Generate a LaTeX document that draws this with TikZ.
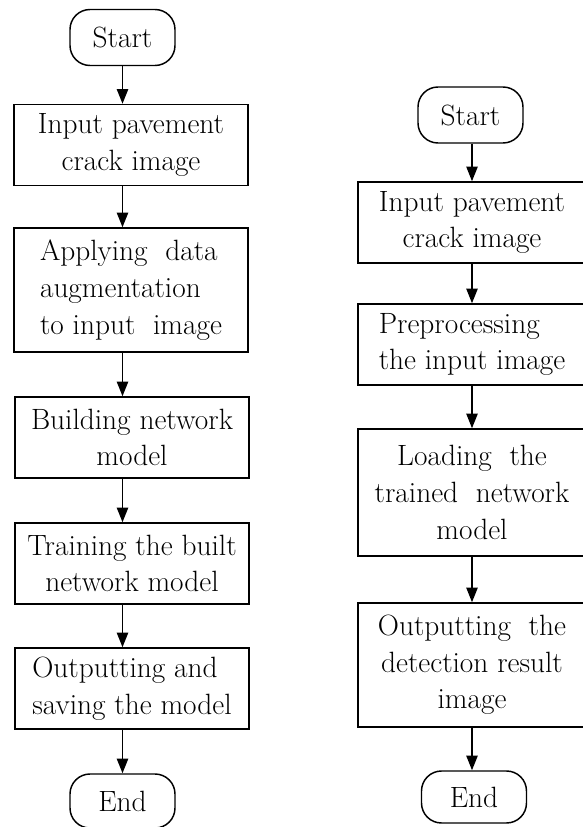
\documentclass[tikz,border=0pt]{standalone}
\usetikzlibrary{arrows.meta}

\tikzset{every picture/.style={line width=1.1pt}}
\tikzset{
  terminal/.style={draw, rounded corners=15pt, minimum width=78.75pt, minimum height=42pt, font=\fontsize{22}{27.5}\selectfont},
  procbox/.style={draw, align=center, minimum width=175.5pt, minimum height=60.75pt, inner sep=1pt, font=\fontsize{22}{27.5}\selectfont},
  flowarrow/.style={-{Triangle[length=11pt,width=8.5pt]}}
}

\begin{document}
\begin{tikzpicture}[x=0.75pt,y=0.75pt,yscale=-1,xscale=1]
\useasboundingbox (0,0) rectangle (582,827);

%Training flow (left)
\node [terminal] (start1) at (122.5,37.5) {Start};
\node [procbox] (in1) at (131,145) {Input pavement\\crack image};
\node [procbox, minimum height=93pt, align=left] (aug1) at (131,290) {Applying\ \ data\\augmentation\\to input\ \ image};
\node [procbox] (build1) at (132,437.5) {Building network\\model};
\node [procbox] (train1) at (132,563.5) {Training the built\\network model};
\node [procbox, align=left] (save1) at (132,688.5) {Outputting and\\saving the model};
\node [terminal, minimum height=40.5pt] (end1) at (122.5,801) {End};

%Straight Lines
\draw [flowarrow] (start1.south) -- (start1.south |- in1.north);
\draw [flowarrow] (in1.south -| start1) -- (aug1.north -| start1);
\draw [flowarrow] (aug1.south -| start1) -- (build1.north -| start1);
\draw [flowarrow] (build1.south -| start1) -- (train1.north -| start1);
\draw [flowarrow] (train1.south -| start1) -- (save1.north -| start1);
\draw [flowarrow] (save1.south -| start1) -- (end1.north);

%Detection flow (right)
\node [terminal] (start2) at (470.5,115) {Start};
\node [procbox, minimum width=171pt] (in2) at (472,222.5) {Input pavement\\crack image};
\node [procbox, minimum width=171pt, align=left] (pre2) at (472,344.5) {Preprocessing\\the input image};
\node [procbox, minimum width=171pt, minimum height=95.25pt] (load2) at (472,492.5) {Loading\ \ the\\trained\ \ network\\model};
\node [procbox, minimum width=171pt, minimum height=93pt] (out2) at (472,665) {Outputting\ \ the\\detection result\\image};
\node [terminal, minimum height=39pt] (end2) at (474,797) {End};

%Straight Lines
\draw [flowarrow] (in2.north |- start2.south) -- (in2.north);
\draw [flowarrow] (in2.south) -- (pre2.north);
\draw [flowarrow] (pre2.south) -- (load2.north);
\draw [flowarrow] (load2.south) -- (out2.north);
\draw [flowarrow] (out2.south) -- (out2.south |- end2.north);

\end{tikzpicture}
\end{document}
